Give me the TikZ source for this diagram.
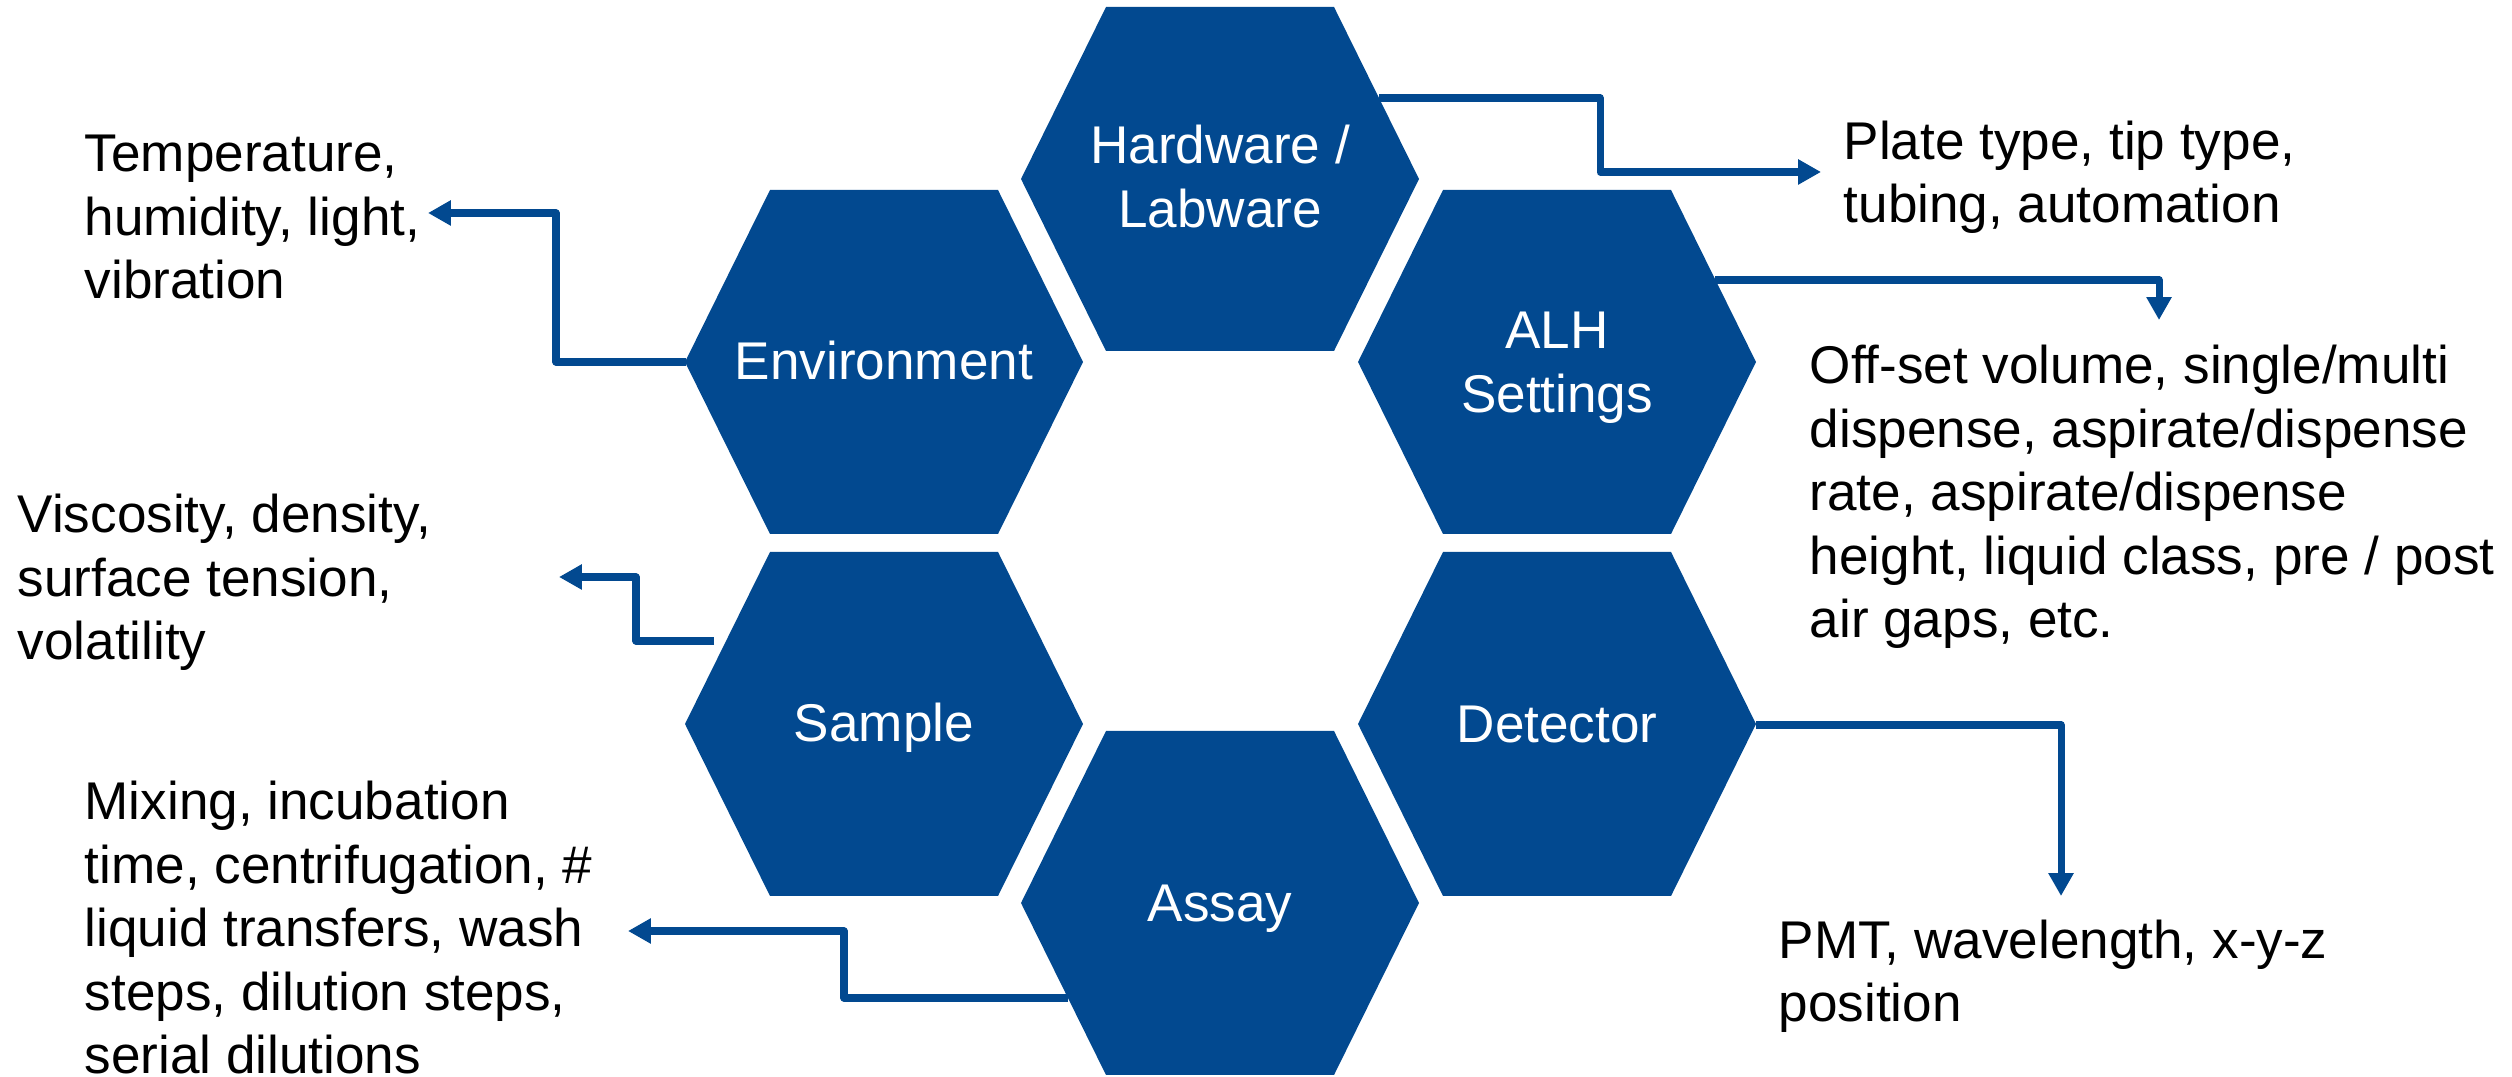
\documentclass[tikz,border=0pt]{standalone}
\usepackage{fontspec}
\setmainfont{Liberation Sans}
\usetikzlibrary{arrows.meta}
\definecolor{hexblue}{RGB}{2,73,144}
\begin{document}
\begin{tikzpicture}[x=0.01cm,y=-0.01cm,
  hexa/.pic={\fill[hexblue] (-199,0) -- (-114,-172) -- (114,-172) -- (199,0) -- (114,172) -- (-114,172) -- cycle;},
  hexlabel/.style={text=white, font=\fontsize{15.1pt}{18.2pt}\selectfont, align=center, inner sep=0pt, anchor=base},
  info/.style={text=black, font=\fontsize{15.1pt}{18.1pt}\selectfont, align=left, inner sep=0pt, anchor=base west},
  conn/.style={draw=hexblue, line width=2pt, line join=round, -{Triangle[length=6.5pt,width=6.8pt]}}]
\useasboundingbox (0,0) rectangle (2512,1077);

% hexagon centres
\coordinate (envc) at (884,362);
\coordinate (hwc)  at (1220,179);
\coordinate (alhc) at (1557,362);
\coordinate (smpc) at (884,724);
\coordinate (asyc) at (1220,903);
\coordinate (detc) at (1557,724);

\foreach \c in {envc,hwc,alhc,smpc,asyc,detc} {\pic at (\c) {hexa};}

% hexagon labels (base = baseline of the last line)
\node[hexlabel] (env) at ([yshift=-18*0.01cm]envc) {Environment};
\node[hexlabel] (hw)  at ([yshift=-49*0.01cm]hwc) {Hardware /\\Labware};
\node[hexlabel] (alh) at ([yshift=-51*0.01cm]alhc) {ALH\\Settings};
\node[hexlabel] (smp) at ([yshift=-18*0.01cm]smpc) {Sample};
\node[hexlabel] (asy) at ([yshift=-19*0.01cm]asyc) {Assay};
\node[hexlabel] (det) at ([yshift=-19*0.01cm]detc) {Detector};

% info texts (placed at the baseline of their last line)
\node[info] (tEnv) at (84,299) {Temperature,\\humidity, light,\\vibration};
\node[info] (tHw)  at (1843,223) {Plate type, tip type,\\tubing, automation};
\node[info] (tAlh) at (1809,638) {Off-set volume, single/multi\\dispense, aspirate/dispense\\rate, aspirate/dispense\\height, liquid class, pre / post\\air gaps, etc.};
\node[info] (tSmp) at (17,660) {Viscosity, density,\\surface tension,\\volatility};
\node[info] (tAsy) at (84,1074) {Mixing, incubation\\time, centrifugation, \#\\liquid transfers, wash\\steps, dilution steps,\\serial dilutions};
\node[info] (tDet) at (1778,1022) {PMT, wavelength, x-y-z\\position};

% connector end points
\coordinate (envOut) at (686,362);
\coordinate (envTip) at (428,213);
\coordinate (hwOut)  at (1379,98);
\coordinate (hwTip)  at (1821,172);
\coordinate (alhOut) at (1715,280);
\coordinate (alhTip) at (2159,320);
\coordinate (smpOut) at (714,641);
\coordinate (smpTip) at (559,577);
\coordinate (asyOut) at (1068,998);
\coordinate (asyTip) at (628,931);
\coordinate (detOut) at (1756,725);
\coordinate (detTip) at (2061,896);

\draw[conn] (envOut) -- (556,362) |- (envTip);
\draw[conn] (hwOut) -- (1600,98) |- (hwTip);
\draw[conn] (alhOut) -| (alhTip);
\draw[conn] (smpOut) -- (636,641) |- (smpTip);
\draw[conn] (asyOut) -- (844,998) |- (asyTip);
\draw[conn] (detOut) -| (detTip);
\end{tikzpicture}
\end{document}
